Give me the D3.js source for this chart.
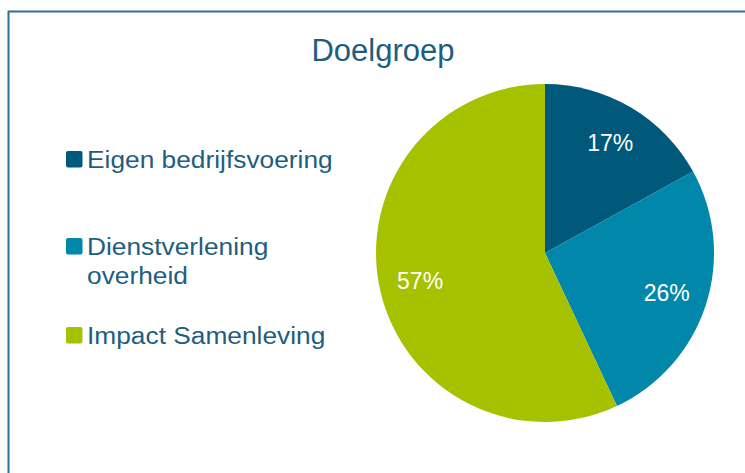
<!DOCTYPE html>
<html>
<head>
<meta charset="utf-8">
<script src="https://cdn.jsdelivr.net/npm/d3@7"></script>
<style>
	body { margin: 0; background: white; }
	svg { display: block; font-family: "Liberation Sans", Arial, sans-serif; }
</style>
</head>
<body>
<svg width="745" height="473"></svg>
<script>
// data
let categories = ['Eigen bedrijfsvoering', 'Dienstverlening overheid', 'Impact Samenleving']
let values = [17, 26, 57]
let legendLines = [['Eigen bedrijfsvoering'], ['Dienstverlening', 'overheid'], ['Impact Samenleving']]
let colors = ['#00587b', '#0087a9', '#a6c100']

let svg = d3.select('svg')
let textColor = '#1d5e80'

// frame (right and bottom edge fall outside the picture)
svg.append('rect')
	.attr('x', 8.5).attr('y', 11.5)
	.attr('width', 800).attr('height', 500)
	.attr('fill', 'none')
	.attr('stroke', '#2f6f90').attr('stroke-width', 2)

svg.append('text')
	.attr('x', 383).attr('y', 61)
	.attr('text-anchor', 'middle')
	.style('font-size', '31px')
	.style('fill', textColor)
	.text('Doelgroep')

let cx = 545, cy = 253, r = 169

let pie = d3.pie().sort(null).value(d => d)
let arcs = pie(values)

let arc = d3.arc().innerRadius(0).outerRadius(r)
let labelArc = d3.arc().innerRadius(128).outerRadius(128)

let g = svg.append('g').attr('transform', `translate(${cx},${cy})`)

g.selectAll('path')
	.data(arcs)
	.join('path')
	.attr('d', arc)
	.attr('fill', (d, i) => colors[i])

g.selectAll('text')
	.data(arcs)
	.join('text')
	.attr('transform', d => `translate(${labelArc.centroid(d)})`)
	.attr('dy', '0.36em')
	.attr('text-anchor', 'middle')
	.style('font-size', '23px')
	.style('fill', 'white')
	.text(d => d.data + '%')

// legend
let legendY = [151, 238, 327]
let leg = svg.append('g')

legendLines.forEach((lines, i) => {
	leg.append('rect')
		.attr('x', 66).attr('y', legendY[i])
		.attr('width', 16.5).attr('height', 16.5)
		.attr('rx', 2)
		.attr('fill', colors[i])
	let t = leg.append('text')
		.attr('transform', `translate(87,${legendY[i] + 16.5}) scale(1.12,1)`)
		.style('font-size', '23.5px')
		.style('fill', textColor)
	lines.forEach((s, j) => {
		t.append('tspan')
			.attr('x', 0).attr('y', j * 30)
			.text(s)
	})
})
</script>
</body>
</html>
